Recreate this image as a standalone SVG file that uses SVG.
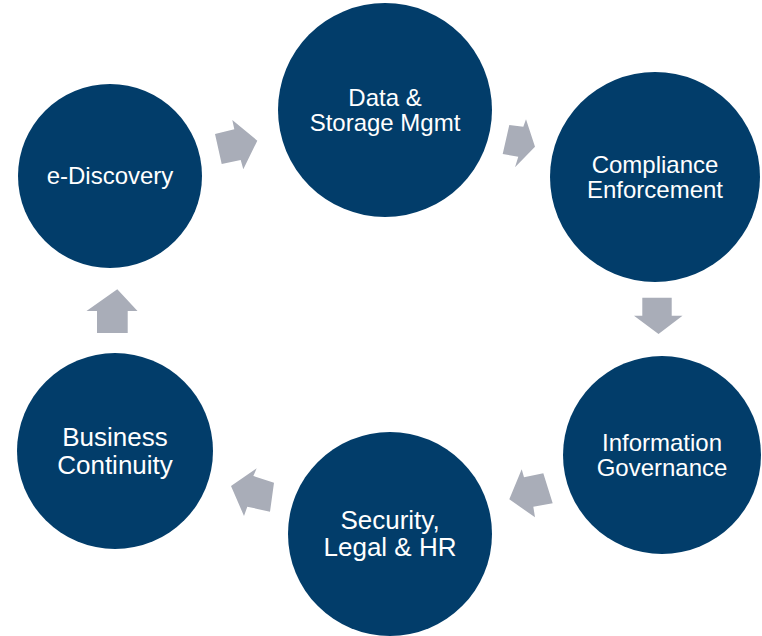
<svg xmlns="http://www.w3.org/2000/svg" width="762" height="636" viewBox="0 0 762 636">
<style>
.node{fill:#023d6a}
.lbl{font-family:"Liberation Sans",Arial,sans-serif;font-size:24px;fill:#ffffff;text-anchor:middle}
.big{font-size:26px}
.arr{fill:#a9adb8}
</style>
<rect width="762" height="636" fill="#ffffff"/>
<g id="connectors">
<polygon class="arr" points="215,134 221.7,164 240.7,160 243.3,169.3 257.3,140.7 232.3,120 234.3,129.3"/>
<polygon class="arr" points="509.3,125 523.3,126.7 526,119.3 535,146.7 515,167.3 518.3,156.7 502.7,154"/>
<polygon class="arr" points="642.3,297.7 671.7,297.7 671.7,315.7 682.5,315.7 658.5,334 634,315.7 642.3,315.7"/>
<polygon class="arr" points="521.7,469.3 524,477.3 543.3,473.3 552.7,503.3 533.3,506.7 535,517.3 509.3,499.3"/>
<polygon class="arr" points="231,486 256.7,468.3 253.3,476 274,482.7 270,511.7 247.3,506.7 244,516"/>
<polygon class="arr" points="117.3,289.3 137.5,311 127.7,311 127.7,333 97,333 97,311 86.5,311"/>
</g>
<g id="node-ediscovery">
<circle class="node" cx="110" cy="176" r="92"/>
<text class="lbl" x="110" y="184">e-Discovery</text>
</g>
<g id="node-data">
<circle class="node" cx="385" cy="110" r="107"/>
<text class="lbl" x="385" y="106">Data &amp;</text>
<text class="lbl" x="385" y="131">Storage Mgmt</text>
</g>
<g id="node-compliance">
<circle class="node" cx="655" cy="177" r="105"/>
<text class="lbl" x="655" y="173">Compliance</text>
<text class="lbl" x="655" y="198">Enforcement</text>
</g>
<g id="node-infogov">
<circle class="node" cx="662" cy="455" r="99"/>
<text class="lbl" x="662" y="451">Information</text>
<text class="lbl" x="662" y="475.5">Governance</text>
</g>
<g id="node-security">
<circle class="node" cx="390" cy="534" r="102"/>
<text class="lbl big" x="390" y="529">Security,</text>
<text class="lbl big" x="390" y="556">Legal &amp; HR</text>
</g>
<g id="node-business">
<circle class="node" cx="115" cy="451" r="98"/>
<text class="lbl big" x="115" y="446">Business</text>
<text class="lbl big" x="115" y="474">Continuity</text>
</g>
</svg>
